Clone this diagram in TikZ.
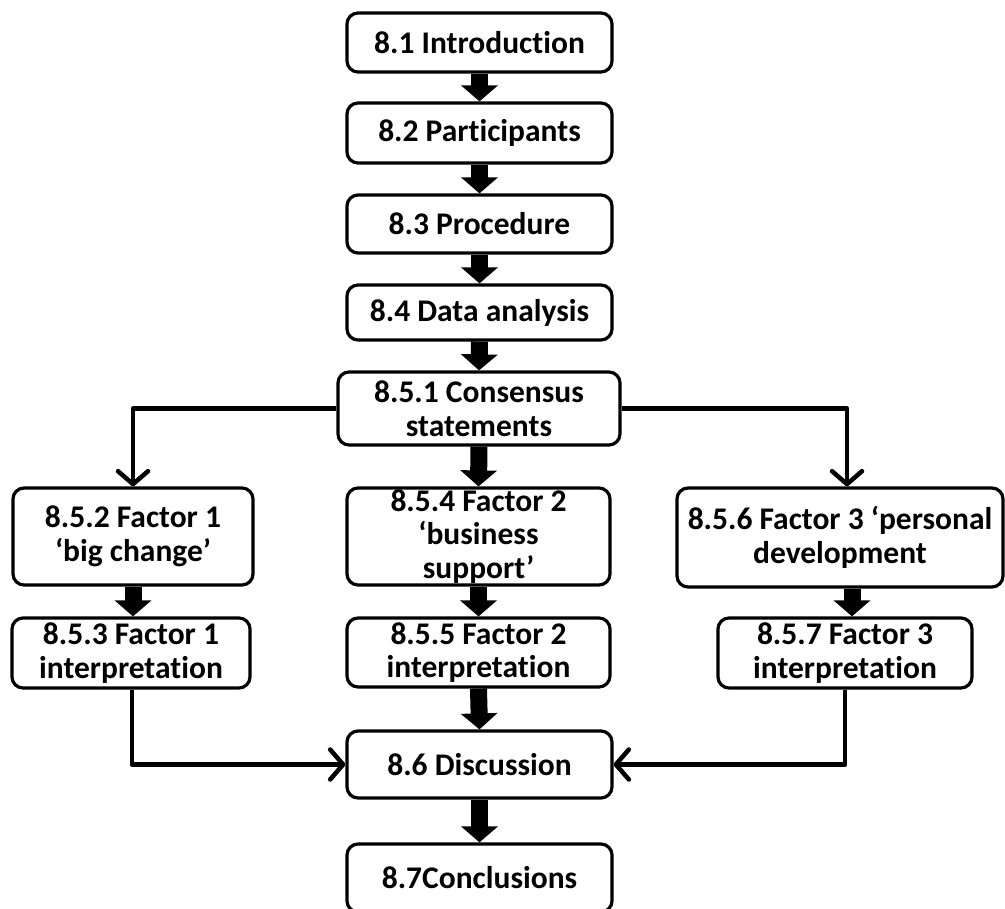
\documentclass[tikz,border=0pt]{standalone}
\usepackage{fontspec}
\setmainfont[Ligatures=NoCommon]{Carlito}
\usetikzlibrary{arrows.meta,calc}
\begin{document}
\begin{tikzpicture}[x=1pt,y=-1pt,
  box/.style={draw=black,line width=3.2pt,rounded corners=11pt,fill=white,
    inner sep=0pt,align=center,
    font=\fontsize{31.5}{33.5}\selectfont\bfseries},
  blockarrow/.style={line width=17pt,
    -{Triangle[width=36pt,length=16pt]}},
  thinarrow/.style={line width=4.5pt,line join=round,
    -{Straight Barb[length=13pt,width=30pt,round]}}]
\useasboundingbox (0,0) rectangle (1005,909);
% nodes
\node[box,minimum width=265pt,minimum height=59pt] (n81) at (479.5,42.5) {8.1 Introduction};
\node[box,minimum width=265pt,minimum height=60pt] (n82) at (479.5,133) {8.2 Participants};
\node[box,minimum width=265pt,minimum height=58pt] (n83) at (479.5,224) {8.3 Procedure};
\node[box,minimum width=265pt,minimum height=55pt] (n84) at (479.5,312.5) {8.4 Data analysis};
\node[box,minimum width=282pt,minimum height=73pt] (n851) at (479,408.5) {8.5.1 Consensus\\statements};
\node[box,minimum width=263pt,minimum height=97pt] (n854) at (478.5,536.5) {8.5.4 Factor 2\\‘business\\support’};
\node[box,minimum width=263pt,minimum height=69pt] (n855) at (478.5,652.5) {8.5.5 Factor 2\\interpretation};
\node[box,minimum width=265pt,minimum height=67pt] (n86) at (479.5,764.5) {8.6 Discussion};
\node[box,minimum width=265pt,minimum height=68pt] (n87) at (479.5,878) {8.7Conclusions};
\node[box,minimum width=240pt,minimum height=97pt] (n852) at (133,536.5) {8.5.2 Factor 1\\‘big change’};
\node[box,minimum width=238pt,minimum height=70pt] (n853) at (131,653) {8.5.3 Factor 1\\interpretation};
\node[box,minimum width=326pt,minimum height=99pt] (n856) at (840,537.5) {8.5.6 Factor 3 ‘personal\\development};
\node[box,minimum width=254pt,minimum height=70pt] (n857) at (845,653) {8.5.7 Factor 3\\interpretation};
% block arrows
\draw[blockarrow] (n81.south) -- (n82.north);
\draw[blockarrow] (n82.south) -- (n83.north);
\draw[blockarrow] (n83.south) -- (n84.north);
\draw[blockarrow] (n84.south) -- (n851.north);
\draw[blockarrow] (n851.south) -- (n854.north);
\draw[blockarrow] (n854.south) -- (n855.north);
\draw[blockarrow] (n855.south) -- (n86.north);
\draw[blockarrow] (n86.south) -- (n87.north);
\draw[blockarrow] (n852.south) -- (n852.south |- n853.north);
\draw[blockarrow] ([xshift=12pt]n856.south) -- ([xshift=12pt]n856.south |- n857.north);
% thin connectors
\draw[thinarrow] (n851.west) -| (n852.north);
\draw[thinarrow] (n851.east) -| ([xshift=7pt]n856.north);
\draw[thinarrow] ([xshift=1pt]n853.south) |- (n86.west);
\draw[thinarrow] (n857.south) |- (n86.east);
\end{tikzpicture}
\end{document}
